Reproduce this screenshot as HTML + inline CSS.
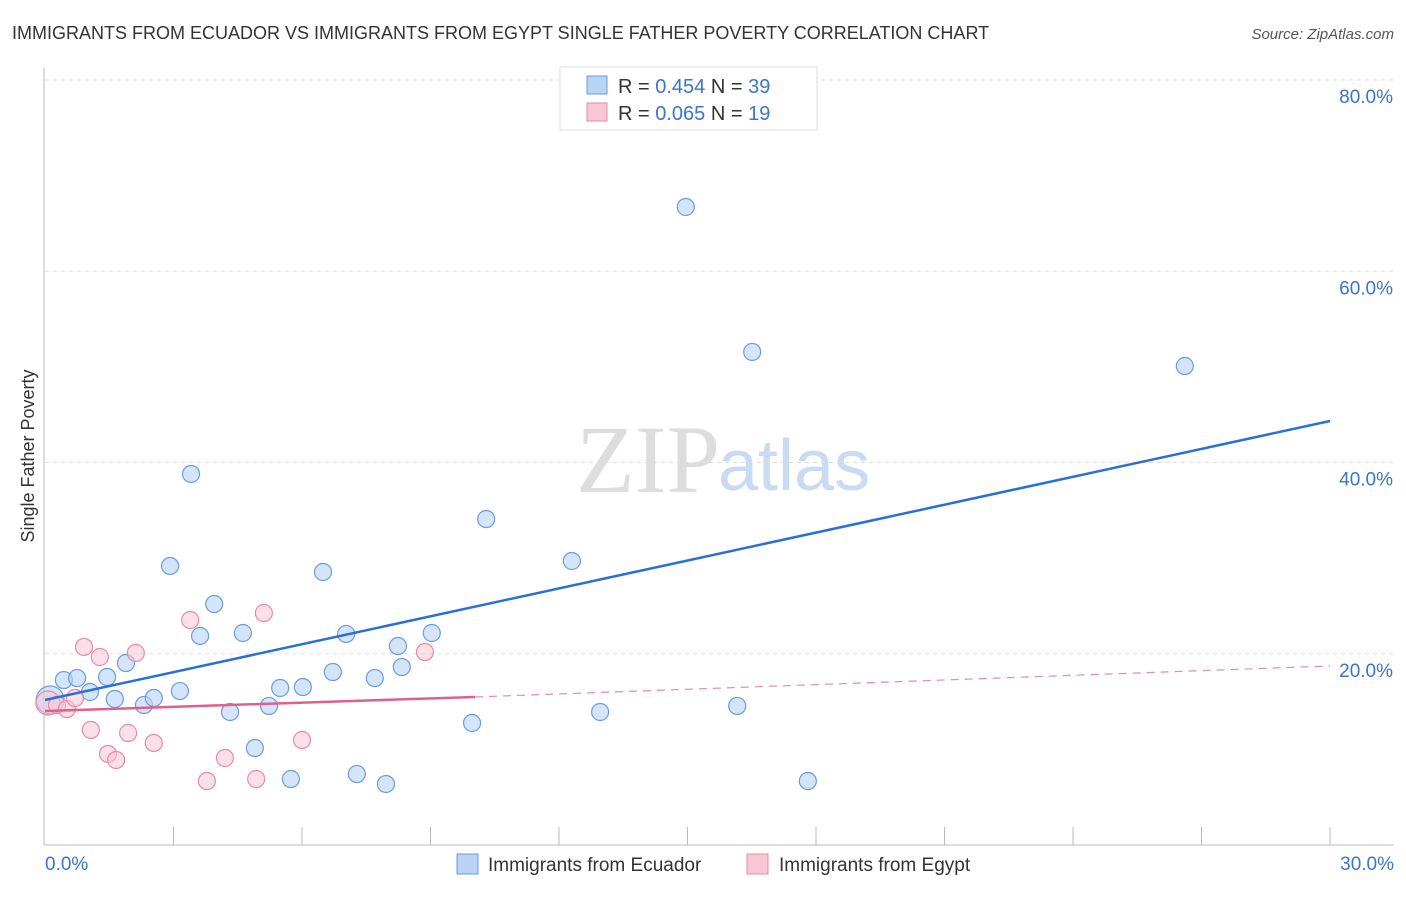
<!DOCTYPE html>
<html><head><meta charset="utf-8"><style>
body{margin:0;background:#fff;font-family:"Liberation Sans",sans-serif;}
</style></head><body>
<svg id="c" width="1406" height="892" xmlns="http://www.w3.org/2000/svg" font-family="Liberation Sans, sans-serif">
<text x="12" y="39" font-size="18" fill="#333">IMMIGRANTS FROM ECUADOR VS IMMIGRANTS FROM EGYPT SINGLE FATHER POVERTY CORRELATION CHART</text>
<text x="1394" y="39" font-size="15" fill="#555" font-style="italic" text-anchor="end">Source: ZipAtlas.com</text>
<text x="720" y="492" font-size="96" fill="#ddd" font-family="Liberation Serif, serif" text-anchor="end">ZIP</text>
<text x="718" y="490" font-size="72" fill="#c9dbf2">atlas</text>
<text x="34" y="456" font-size="18" fill="#333" text-anchor="middle" transform="rotate(-90 34 456)">Single Father Poverty</text>
<g id="grid"></g><g id="axes"></g><g id="pts"></g><g id="lines"></g>
<g>
<rect x="560" y="67" width="257" height="63" fill="#fff" stroke="#ddd"/>
<rect x="587" y="76" width="20" height="18" fill="#b8d3f5" stroke="#6a9be0"/>
<text x="618" y="93" font-size="20" fill="#333">R = <tspan fill="#3a74d0">0.454</tspan>   N = <tspan fill="#3a74d0">39</tspan></text>
<rect x="587" y="103" width="20" height="18" fill="#f9c6d5" stroke="#e88aa8"/>
<text x="618" y="120" font-size="20" fill="#333">R = <tspan fill="#3a74d0">0.065</tspan>   N =  <tspan fill="#3a74d0">19</tspan></text>
</g>
<g>
<rect x="457" y="854" width="21" height="20" fill="#b8d3f5" stroke="#6a9be0"/>
<text x="488" y="871" font-size="19" fill="#333">Immigrants from Ecuador</text>
<rect x="747" y="854" width="21" height="20" fill="#f9c6d5" stroke="#e88aa8"/>
<text x="779" y="871" font-size="19" fill="#333">Immigrants from Egypt</text>
</g>
</svg>
<script>
const blueX=[0.12,0.44,0.75,1.05,1.45,1.63,1.89,2.31,2.54,2.92,3.15,3.41,3.62,3.95,4.32,4.62,4.90,5.23,5.49,5.74,6.02,6.49,6.72,7.03,7.28,7.70,7.96,8.24,8.33,9.03,9.97,10.30,12.30,12.96,14.96,16.16,16.51,17.81,26.61];
const blueY=[15.16,17.25,17.46,16.0,17.57,15.27,19.03,14.64,15.37,29.18,16.10,38.80,21.86,25.20,13.91,22.17,10.14,14.54,16.42,6.90,16.52,28.55,18.09,22.07,7.42,17.46,6.38,20.81,18.61,22.17,12.76,34.09,29.70,13.91,66.72,14.54,51.56,6.69,50.09];
const pinkX=[0.07,0.28,0.51,0.70,0.91,1.07,1.28,1.47,1.66,1.94,2.12,2.54,3.39,3.78,4.20,4.93,5.11,6.00,8.87];
const pinkY=[14.85,14.64,14.22,15.37,20.71,12.03,19.66,9.52,8.89,11.71,20.08,10.67,23.53,6.69,9.10,6.90,24.26,10.98,20.18];
const blueLine=[0,15.16,30,44.34];
const pinkLine=[0,14.01,10.04,15.48,30,18.72];
const yTicks=[20,40,60,80];
const yTickLabels=["20.0%","40.0%","60.0%","80.0%"];
const xTickLabels=["0.0%","30.0%"];
const NS="http://www.w3.org/2000/svg";
const sx=v=>45+v*1285/30, sy=v=>845-v*9.5625;
function mk(parent,tag,attrs){const e=document.createElementNS(NS,tag);for(const k in attrs)e.setAttribute(k,attrs[k]);document.getElementById(parent).appendChild(e);return e;}
yTicks.forEach((t,i)=>{
 const l=mk('grid','line',{x1:45,x2:1394,y1:sy(t),y2:sy(t),stroke:'#ddd','stroke-dasharray':'4,4'});
 
 
 const tx=mk('grid','text',{x:1393,y:sy(t)+23,'font-size':19,fill:'#3a74d0','text-anchor':'end'});tx.textContent=yTickLabels[i];
 
 
});
mk('axes','line',{x1:44,x2:44,y1:68,y2:845,stroke:'#bbb'});
mk('axes','line',{x1:44,x2:1394,y1:845,y2:845,stroke:'#bbb'});
for(let i=1;i<=10;i++){const x=sx(i*3);const t=mk('axes','line',{x1:x,x2:x,y1:827,y2:845,stroke:'#bbb'});
 
 }
const xl0=mk('axes','text',{x:45,y:870,'font-size':19,fill:'#3a74d0'});xl0.textContent=xTickLabels[0];


const xl1=mk('axes','text',{x:1394,y:870,'font-size':19,fill:'#3a74d0','text-anchor':'end'});xl1.textContent=xTickLabels[1];


blueX.forEach((x,i)=>{const c=mk('pts','circle',{cx:sx(x),cy:sy(blueY[i]),r:i==0?14:8.5,fill:'#b8d3f5','fill-opacity':0.6,stroke:'#6a9be0','stroke-width':1.2});
 
 });
pinkX.forEach((x,i)=>{const c=mk('pts','circle',{cx:sx(x),cy:sy(pinkY[i]),r:i==0?12:8.5,fill:'#f9c6d5','fill-opacity':0.55,stroke:'#e88aa8','stroke-width':1.2});
 
 });
const bl=mk('lines','line',{x1:sx(blueLine[0]),y1:sy(blueLine[1]),x2:sx(blueLine[2]),y2:sy(blueLine[3]),stroke:'#2a6fd6','stroke-width':2.5});


const pl=mk('lines','line',{x1:sx(pinkLine[0]),y1:sy(pinkLine[1]),x2:sx(pinkLine[2]),y2:sy(pinkLine[3]),stroke:'#e0608a','stroke-width':2.5});


const pd=mk('lines','line',{x1:sx(pinkLine[2]),y1:sy(pinkLine[3]),x2:sx(pinkLine[4]),y2:sy(pinkLine[5]),stroke:'#e88aa8','stroke-width':1.2,'stroke-dasharray':'8,6'});


</script>
</body></html>
